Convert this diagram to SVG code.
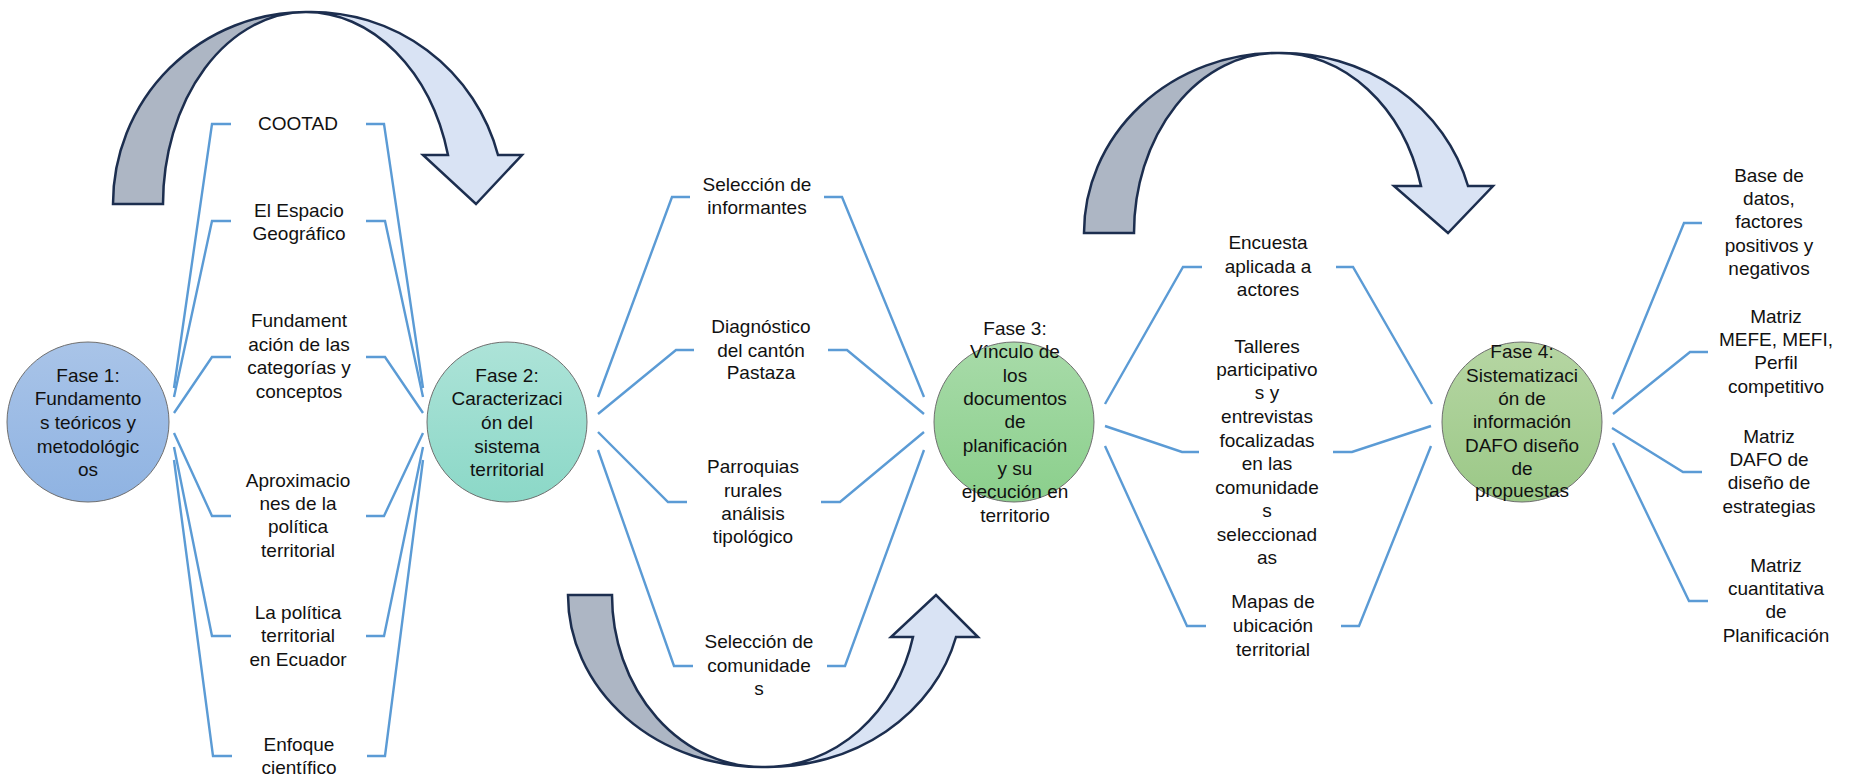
<svg xmlns="http://www.w3.org/2000/svg" width="1852" height="777" viewBox="0 0 1852 777">
<defs>
<linearGradient id="g1" x1="0" y1="0" x2="0" y2="1"><stop offset="0" stop-color="#a9c4e8"/><stop offset="1" stop-color="#8fb3e2"/></linearGradient>
<linearGradient id="g2" x1="0" y1="0" x2="0" y2="1"><stop offset="0" stop-color="#ade3d8"/><stop offset="1" stop-color="#8bd8c7"/></linearGradient>
<linearGradient id="g3" x1="0" y1="0" x2="0" y2="1"><stop offset="0" stop-color="#a8dba9"/><stop offset="1" stop-color="#8bcf8c"/></linearGradient>
<linearGradient id="g4" x1="0" y1="0" x2="0" y2="1"><stop offset="0" stop-color="#b6d6a3"/><stop offset="1" stop-color="#9bc887"/></linearGradient>
<style>
.c{fill:none;stroke:#5b9bd5;stroke-width:2.4;stroke-linejoin:miter}
.n{stroke:#6f6f6f;stroke-width:1}
.t{font-family:"Liberation Sans",Arial,sans-serif;font-size:19px;fill:#111;text-anchor:middle}
.ad{fill:#adb6c4;stroke:#1c2e4f;stroke-width:2.5;stroke-linejoin:miter}
.al{fill:#d9e3f4;stroke:#1c2e4f;stroke-width:2.5;stroke-linejoin:miter}
</style>
</defs>
<rect width="1852" height="777" fill="#fff"/>

<g id="connectors">
<polyline class="c" points="174,388 212,124 231,124"/><polyline class="c" points="366,124 384,124 423,388"/>
<polyline class="c" points="174,397 212,221 231,221"/><polyline class="c" points="366,221 385,221 423,397"/>
<polyline class="c" points="174,413 212,357 231,357"/><polyline class="c" points="366,357 385,357 423,413"/>
<polyline class="c" points="174,433 212,516 231,516"/><polyline class="c" points="366,516 384,516 423,433"/>
<polyline class="c" points="174,447 212,636 231,636"/><polyline class="c" points="366,636 384,636 423,447"/>
<polyline class="c" points="174,460 213,756 232,756"/><polyline class="c" points="367,756 385,756 423,460"/>
<polyline class="c" points="598,397 672,197 690,197"/><polyline class="c" points="824,197 842,197 924,397"/>
<polyline class="c" points="598,414 676,350 694,350"/><polyline class="c" points="828,350 847,350 924,414"/>
<polyline class="c" points="598,432 668,502 687,502"/><polyline class="c" points="821,502 840,502 924,432"/>
<polyline class="c" points="598,450 674,666 693,666"/><polyline class="c" points="827,666 845,666 924,450"/>
<polyline class="c" points="1105,404 1183,267 1202,267"/><polyline class="c" points="1336,267 1353,267 1432,404"/>
<polyline class="c" points="1105,426 1182,452 1199,452"/><polyline class="c" points="1333,452 1352,452 1431,426"/>
<polyline class="c" points="1105,446 1187,626 1206,626"/><polyline class="c" points="1341,626 1359,626 1431,446"/>
<polyline class="c" points="1612,399 1684,223 1702,223"/>
<polyline class="c" points="1613,414 1690,352 1708,352"/>
<polyline class="c" points="1612,428 1683,472 1702,472"/>
<polyline class="c" points="1613,443 1689,601 1708,601"/>
</g>

<g id="arrow1">
<path class="ad" d="M113,204 A193,192 0 0 1 306,12 A143,192 0 0 0 163,204 Z"/>
<path class="al" d="M306,12 A193,192 0 0 1 498,155 L522,155 L476,204 L423,155 L448,155 A147,192 0 0 0 306,12 Z"/>
</g>
<g id="arrow2">
<path class="ad" d="M1084,233 A193,180 0 0 1 1277,53 A143,180 0 0 0 1134,233 Z"/>
<path class="al" d="M1277,53 A193,180 0 0 1 1468,186 L1493,186 L1448,233 L1394,186 L1421,186 A147,180 0 0 0 1277,53 Z"/>
</g>
<g id="arrow3">
<path class="ad" d="M568,595 L612,595 A150,172 0 0 0 765,767 A194,172 0 0 1 568,595 Z"/>
<path class="al" d="M765,767 A194,172 0 0 0 956,637 L978,637 L936,595 L891,637 L913,637 A152,172 0 0 1 765,767 Z"/>
</g>

<g id="fase1">
<ellipse class="n" cx="88" cy="422" rx="81" ry="80" fill="url(#g1)"/>
<text class="t"><tspan x="88" y="382">Fase 1:</tspan><tspan x="88" y="405">Fundamento</tspan><tspan x="88" y="429">s teóricos y</tspan><tspan x="88" y="453">metodológic</tspan><tspan x="88" y="476">os</tspan></text>
</g>
<g id="fase2">
<ellipse class="n" cx="507" cy="422" rx="80" ry="80" fill="url(#g2)"/>
<text class="t"><tspan x="507" y="382">Fase 2:</tspan><tspan x="507" y="405">Caracterizaci</tspan><tspan x="507" y="429">ón del</tspan><tspan x="507" y="453">sistema</tspan><tspan x="507" y="476">territorial</tspan></text>
</g>
<g id="fase3">
<ellipse class="n" cx="1014" cy="422" rx="80" ry="80" fill="url(#g3)"/>
<text class="t"><tspan x="1015" y="335">Fase 3:</tspan><tspan x="1015" y="358">Vínculo de</tspan><tspan x="1015" y="382">los</tspan><tspan x="1015" y="405">documentos</tspan><tspan x="1015" y="428">de</tspan><tspan x="1015" y="452">planificación</tspan><tspan x="1015" y="475">y su</tspan><tspan x="1015" y="498">ejecución en</tspan><tspan x="1015" y="522">territorio</tspan></text>
</g>
<g id="fase4">
<ellipse class="n" cx="1522" cy="422" rx="80" ry="80" fill="url(#g4)"/>
<text class="t"><tspan x="1522" y="358">Fase 4:</tspan><tspan x="1522" y="382">Sistematizaci</tspan><tspan x="1522" y="405">ón de</tspan><tspan x="1522" y="428">información</tspan><tspan x="1522" y="452">DAFO diseño</tspan><tspan x="1522" y="475">de</tspan><tspan x="1522" y="497">propuestas</tspan></text>
</g>

<g id="cootad"><text class="t"><tspan x="298" y="130">COOTAD</tspan></text></g>
<g id="espacio"><text class="t"><tspan x="299" y="217">El Espacio</tspan><tspan x="299" y="240">Geográfico</tspan></text></g>
<g id="fundamentacion"><text class="t"><tspan x="299" y="327">Fundament</tspan><tspan x="299" y="351">ación de las</tspan><tspan x="299" y="374">categorías y</tspan><tspan x="299" y="398">conceptos</tspan></text></g>
<g id="aproximaciones"><text class="t"><tspan x="298" y="487">Aproximacio</tspan><tspan x="298" y="510">nes de la</tspan><tspan x="298" y="533">política</tspan><tspan x="298" y="557">territorial</tspan></text></g>
<g id="politica"><text class="t"><tspan x="298" y="619">La política</tspan><tspan x="298" y="642">territorial</tspan><tspan x="298" y="666">en Ecuador</tspan></text></g>
<g id="enfoque"><text class="t"><tspan x="299" y="751">Enfoque</tspan><tspan x="299" y="774">científico</tspan></text></g>

<g id="informantes"><text class="t"><tspan x="757" y="191">Selección de</tspan><tspan x="757" y="214">informantes</tspan></text></g>
<g id="diagnostico"><text class="t"><tspan x="761" y="333">Diagnóstico</tspan><tspan x="761" y="357">del cantón</tspan><tspan x="761" y="379">Pastaza</tspan></text></g>
<g id="parroquias"><text class="t"><tspan x="753" y="473">Parroquias</tspan><tspan x="753" y="497">rurales</tspan><tspan x="753" y="520">análisis</tspan><tspan x="753" y="543">tipológico</tspan></text></g>
<g id="comunidades"><text class="t"><tspan x="759" y="648">Selección de</tspan><tspan x="759" y="672">comunidade</tspan><tspan x="759" y="695">s</tspan></text></g>

<g id="encuesta"><text class="t"><tspan x="1268" y="249">Encuesta</tspan><tspan x="1268" y="273">aplicada a</tspan><tspan x="1268" y="296">actores</tspan></text></g>
<g id="talleres"><text class="t"><tspan x="1267" y="353">Talleres</tspan><tspan x="1267" y="376">participativo</tspan><tspan x="1267" y="399">s y</tspan><tspan x="1267" y="423">entrevistas</tspan><tspan x="1267" y="447">focalizadas</tspan><tspan x="1267" y="470">en las</tspan><tspan x="1267" y="494">comunidade</tspan><tspan x="1267" y="517">s</tspan><tspan x="1267" y="541">seleccionad</tspan><tspan x="1267" y="564">as</tspan></text></g>
<g id="mapas"><text class="t"><tspan x="1273" y="608">Mapas de</tspan><tspan x="1273" y="632">ubicación</tspan><tspan x="1273" y="656">territorial</tspan></text></g>

<g id="basedatos"><text class="t"><tspan x="1769" y="182">Base de</tspan><tspan x="1769" y="205">datos,</tspan><tspan x="1769" y="228">factores</tspan><tspan x="1769" y="252">positivos y</tspan><tspan x="1769" y="275">negativos</tspan></text></g>
<g id="mefe"><text class="t"><tspan x="1776" y="323">Matriz</tspan><tspan x="1776" y="346">MEFE, MEFI,</tspan><tspan x="1776" y="369">Perfil</tspan><tspan x="1776" y="393">competitivo</tspan></text></g>
<g id="dafo"><text class="t"><tspan x="1769" y="443">Matriz</tspan><tspan x="1769" y="466">DAFO de</tspan><tspan x="1769" y="489">diseño de</tspan><tspan x="1769" y="513">estrategias</tspan></text></g>
<g id="cuantitativa"><text class="t"><tspan x="1776" y="572">Matriz</tspan><tspan x="1776" y="595">cuantitativa</tspan><tspan x="1776" y="618">de</tspan><tspan x="1776" y="642">Planificación</tspan></text></g>
</svg>
